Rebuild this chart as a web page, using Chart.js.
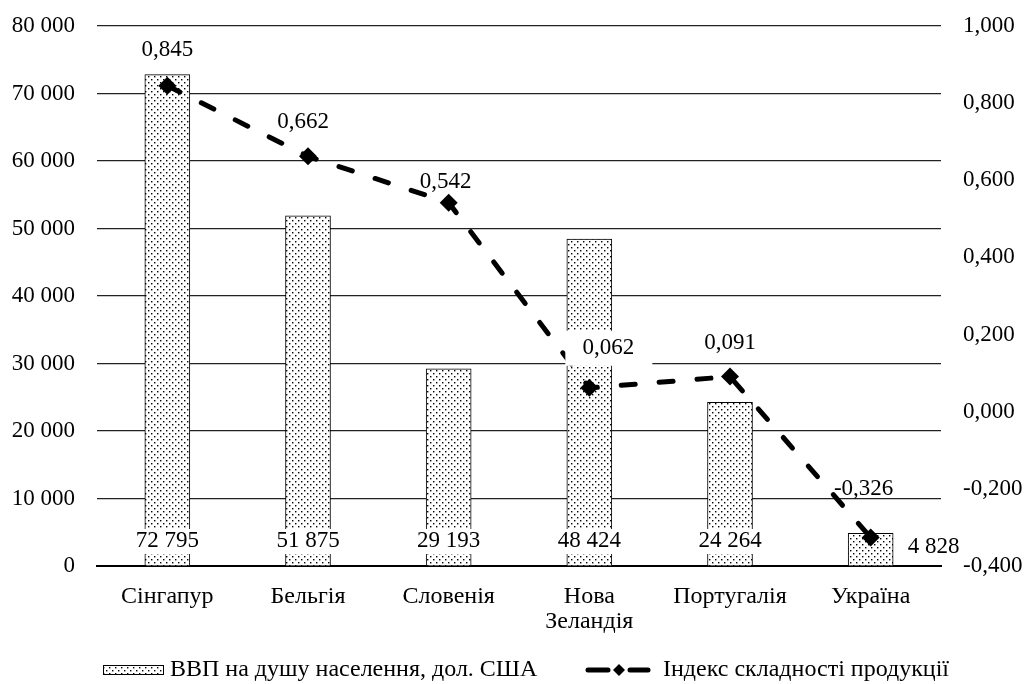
<!DOCTYPE html>
<html><head><meta charset="utf-8">
<script src="https://cdn.jsdelivr.net/npm/chart.js@4"></script>
<style>html,body{margin:0;padding:0;background:#fff}#wrap{width:1025px;height:684px}</style>
</head><body><div id="wrap"><canvas id="c" width="1025" height="684"></canvas></div>
<script>
const categories = [['Сінгапур'], ['Бельгія'], ['Словенія'], ['Нова', 'Зеландія'], ['Португалія'], ['Україна']];
const gdpValues = [72795, 51875, 29193, 48424, 24264, 4828];
const eciValues = [0.845, 0.662, 0.542, 0.062, 0.091, -0.326];
const gdpLabel = 'ВВП на душу населення, дол. США';
const eciLabel = 'Індекс складності продукції';

const FONT = "'Liberation Serif', 'DejaVu Serif', serif";
const FS = 23;
const FS_L = 24;
const fmtGdp = v => String(Math.round(v)).replace(/\B(?=(\d{3})+(?!\d))/g, ' ');
const fmtEci = v => { if (Math.abs(v) < 1e-9) v = 0; return v.toFixed(3).replace('.', ','); };

function makePattern() {
  const p = document.createElement('canvas');
  p.width = 6; p.height = 6;
  const g = p.getContext('2d');
  g.fillStyle = '#fff'; g.fillRect(0, 0, 6, 6);
  g.fillStyle = '#000';
  g.fillRect(1, 1, 1.4, 1.4);
  g.fillRect(4, 4, 1.4, 1.4);
  return document.getElementById('c').getContext('2d').createPattern(p, 'repeat');
}
const pattern = makePattern();

const lineLabelOffsets = [[0, -36], [-5, -34], [-3, -21], [19, -40], [0, -34], [-7, -49]];
const lineLabelBg = [false, false, false, true, false, false];

const labelsPlugin = {
  id: 'labels',
  afterDatasetsDraw(chart) {
    const ctx = chart.ctx;
    const area = chart.chartArea;
    ctx.save();
    ctx.font = FS + 'px ' + FONT;
    ctx.textAlign = 'center';
    ctx.textBaseline = 'middle';
    const barMeta = chart.getDatasetMeta(1);
    barMeta.data.forEach((el, i) => {
      const txt = fmtGdp(gdpValues[i]);
      let x = el.x, y = area.bottom - 25;
      if (i === gdpValues.length - 1) { x = el.x + 63; y = area.bottom - 19; }
      else {
        const w = ctx.measureText(txt).width;
        ctx.fillStyle = '#fff';
        ctx.fillRect(x - w / 2 - 2, y - 12, w + 4, 25);
      }
      ctx.fillStyle = '#000';
      ctx.fillText(txt, x, y);
    });
    const lineMeta = chart.getDatasetMeta(0);
    lineMeta.data.forEach((el, i) => {
      const txt = fmtEci(eciValues[i]);
      const x = el.x + lineLabelOffsets[i][0], y = el.y + lineLabelOffsets[i][1];
      if (lineLabelBg[i]) {
        ctx.fillStyle = '#fff';
        ctx.fillRect(x - 43, y - 17, 87, 35);
      }
      ctx.fillStyle = '#000';
      ctx.fillText(txt, x, y);
    });
    ctx.restore();
  },
  afterDraw(chart) {
    const ctx = chart.ctx;
    ctx.save();
    const ly = 670;
    ctx.fillStyle = pattern;
    ctx.fillRect(103, ly - 5, 60, 10);
    ctx.strokeStyle = '#000'; ctx.lineWidth = 1;
    ctx.strokeRect(103.5, ly - 4.5, 60, 9);
    ctx.font = FS_L + 'px ' + FONT;
    ctx.fillStyle = '#000';
    ctx.textAlign = 'left'; ctx.textBaseline = 'middle';
    ctx.fillText(gdpLabel, 170, ly);
    ctx.strokeStyle = '#000'; ctx.lineWidth = 5; ctx.lineCap = 'round';
    ctx.beginPath(); ctx.moveTo(588, ly); ctx.lineTo(608, ly); ctx.stroke();
    ctx.beginPath(); ctx.moveTo(630, ly); ctx.lineTo(648, ly); ctx.stroke();
    ctx.beginPath();
    ctx.moveTo(619, ly - 6); ctx.lineTo(625, ly); ctx.lineTo(619, ly + 6); ctx.lineTo(613, ly);
    ctx.closePath(); ctx.fillStyle = '#000'; ctx.fill();
    ctx.fillText(eciLabel, 663, ly);
    ctx.restore();
  }
};

function build() {
  new Chart(document.getElementById('c'), {
    data: {
      labels: categories,
      datasets: [
        {
          type: 'line', label: eciLabel, data: eciValues, yAxisID: 'y1', order: 0,
          borderColor: '#000', backgroundColor: '#000', borderWidth: 5,
          borderDash: [14, 24], borderCapStyle: 'round',
          pointStyle: 'rectRot', pointRadius: 9, pointBorderWidth: 0,
          pointBackgroundColor: '#000', tension: 0, fill: false
        },
        {
          type: 'bar', label: gdpLabel, data: gdpValues, yAxisID: 'y', order: 1,
          backgroundColor: pattern, borderColor: '#000', borderWidth: 1,
          barThickness: 45
        }
      ]
    },
    options: {
      responsive: false, animation: false,
      layout: { padding: { top: 26, left: 0, right: 0, bottom: 0 } },
      plugins: { legend: { display: false }, tooltip: { enabled: false } },
      scales: {
        x: {
          grid: { display: false, drawTicks: false },
          border: { display: true, color: '#000', width: 2 },
          ticks: { color: '#000', padding: 18, maxRotation: 0, font: { family: FONT, size: FS_L, lineHeight: 1.05 } },
          afterFit(s) { s.height = 118; s.paddingLeft = 0; s.paddingRight = 0; }
        },
        y: {
          position: 'left', min: 0, max: 80000,
          grid: { color: '#222', lineWidth: 1.2, drawTicks: false },
          border: { display: false },
          ticks: { stepSize: 10000, color: '#000', padding: 22, font: { family: FONT, size: FS }, callback: v => fmtGdp(v) },
          afterFit(s) { s.width = 97; s.paddingTop = 0; s.paddingBottom = 0; }
        },
        y1: {
          position: 'right', min: -0.4, max: 1.0,
          grid: { display: false, drawTicks: false },
          border: { display: false },
          ticks: { stepSize: 0.2, color: '#000', padding: 22, font: { family: FONT, size: FS }, callback: v => fmtEci(v) },
          afterFit(s) { s.width = 84; s.paddingTop = 0; s.paddingBottom = 0; }
        }
      }
    },
    plugins: [labelsPlugin]
  });
}
if (document.fonts && document.fonts.load) {
  Promise.all([document.fonts.load("23px 'Liberation Serif'"), document.fonts.load("23px 'DejaVu Serif'")]).then(build, build);
} else build();
</script></body></html>
